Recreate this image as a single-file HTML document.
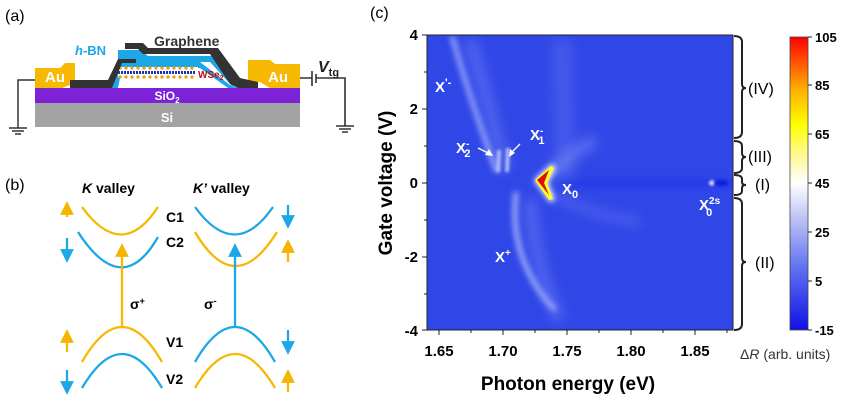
<!DOCTYPE html>
<html><head><meta charset="utf-8"><style>
body{margin:0;background:#fff;}
svg{display:block;font-family:"Liberation Sans",Arial,sans-serif;}
</style></head><body>
<svg width="852" height="402" viewBox="0 0 852 402" xmlns="http://www.w3.org/2000/svg">
<defs>
<filter id="b3" filterUnits="userSpaceOnUse" x="400" y="0" width="400" height="400"><feGaussianBlur stdDeviation="3"/></filter>
<filter id="b6" filterUnits="userSpaceOnUse" x="400" y="0" width="400" height="400"><feGaussianBlur stdDeviation="6"/></filter>
<filter id="b1" filterUnits="userSpaceOnUse" x="400" y="0" width="400" height="400"><feGaussianBlur stdDeviation="1.2"/></filter>
<linearGradient id="cb" x1="0" y1="1" x2="0" y2="0">
<stop offset="0" stop-color="#1010e8"/>
<stop offset="0.2" stop-color="#5a6cf0"/>
<stop offset="0.4" stop-color="#c8ccf6"/>
<stop offset="0.5" stop-color="#ffffff"/>
<stop offset="0.6" stop-color="#fff890"/>
<stop offset="0.7" stop-color="#ffff00"/>
<stop offset="0.82" stop-color="#ffb000"/>
<stop offset="1" stop-color="#ff0000"/>
</linearGradient>
<marker id="ay" markerWidth="6" markerHeight="6" refX="3" refY="3" orient="auto"><path d="M0,0L6,3L0,6z" fill="#f5b400"/></marker>
<marker id="ab" markerWidth="6" markerHeight="6" refX="3" refY="3" orient="auto"><path d="M0,0L6,3L0,6z" fill="#1ea7e6"/></marker>
<clipPath id="pc"><rect x="427" y="35" width="306" height="295"/></clipPath>
</defs>

<text x="5" y="21" font-size="16">(a)</text>
<rect x="35" y="88" width="265" height="15" fill="#7e22d8"/>
<rect x="35" y="103" width="265" height="24" fill="#a3a3a3"/>
<text x="167" y="100" font-size="12" font-weight="bold" fill="#fff" text-anchor="middle">SiO<tspan font-size="8" dy="3">2</tspan></text>
<text x="167" y="122" font-size="13" font-weight="bold" fill="#fff" text-anchor="middle">Si</text>
<path d="M35,68 L60,68 L65,63 L75,63 L75,83 L62,88 L35,88z" fill="#f6b800"/>
<text x="55" y="82" font-size="15" font-weight="bold" fill="#fff" text-anchor="middle">Au</text>
<path d="M248,60 L270,60 L275,64 L300,64 L300,88 L270,88 L260,82 L248,82z" fill="#f6b800"/>
<text x="278" y="82" font-size="15" font-weight="bold" fill="#fff" text-anchor="middle">Au</text>
<path d="M112,88 L118,62 L200,62 L230,85 L238,88 L228,88 L200,68 L122,68 L118,88z" fill="#1ea7e6"/>
<path d="M118,50 L140,50 L148,56 L213,56 L238,84 L232,86 L210,62 L118,62z" fill="#1ea7e6"/>
<rect x="118" y="67" width="80" height="10" fill="#fff"/>
<g fill="#e8a000"><circle cx="120" cy="68" r="1.6"/><circle cx="126" cy="68" r="1.6"/><circle cx="132" cy="68" r="1.6"/><circle cx="138" cy="68" r="1.6"/><circle cx="144" cy="68" r="1.6"/><circle cx="150" cy="68" r="1.6"/><circle cx="156" cy="68" r="1.6"/><circle cx="162" cy="68" r="1.6"/><circle cx="168" cy="68" r="1.6"/><circle cx="174" cy="68" r="1.6"/><circle cx="180" cy="68" r="1.6"/><circle cx="186" cy="68" r="1.6"/><circle cx="192" cy="68" r="1.6"/>
<circle cx="120" cy="77" r="1.6"/><circle cx="126" cy="77" r="1.6"/><circle cx="132" cy="77" r="1.6"/><circle cx="138" cy="77" r="1.6"/><circle cx="144" cy="77" r="1.6"/><circle cx="150" cy="77" r="1.6"/><circle cx="156" cy="77" r="1.6"/><circle cx="162" cy="77" r="1.6"/><circle cx="168" cy="77" r="1.6"/><circle cx="174" cy="77" r="1.6"/><circle cx="180" cy="77" r="1.6"/><circle cx="186" cy="77" r="1.6"/><circle cx="192" cy="77" r="1.6"/></g>
<path d="M118,72.5 L196,72.5" stroke="#1a30c0" stroke-width="3" stroke-dasharray="2 1"/>
<text x="198" y="78" font-size="10" font-weight="bold" fill="#c01010">WSe<tspan font-size="7" dy="2">2</tspan></text>
<path d="M70,80 L108,80 L118,59 L136,59 L136,63 L122,63 L112,88 L70,88z" fill="#333"/>
<path d="M125,43 L143,43 L148,48 L218,48 L240,78 L258,82 L258,88 L238,88 L230,84 L210,54 L143,54 L138,49 L125,49z" fill="#333"/>
<text x="154" y="46" font-size="14" font-weight="bold" fill="#333">Graphene</text>
<text x="75" y="55" font-size="13" font-weight="bold" fill="#1ea7e6"><tspan font-style="italic">h</tspan>-BN</text>
<path d="M35,80 L18,80 L18,128 M9,128 L27,128 M12,131 L24,131 M15,134 L21,134" stroke="#333" stroke-width="1.5" fill="none"/>
<path d="M300,78 L312,78 M312,71 L312,86 M316,74 L316,83 M316,78 L345,78 L345,126 M336,126 L354,126 M339,129 L351,129 M342,132 L348,132" stroke="#333" stroke-width="1.6" fill="none"/>
<text x="318" y="72" font-size="16" font-weight="bold" font-style="italic" fill="#222">V<tspan font-size="11" font-style="normal" dy="4">tg</tspan></text>

<text x="5" y="190" font-size="16">(b)</text>
<text x="82" y="193" font-size="14" font-weight="bold"><tspan font-style="italic">K</tspan> valley</text>
<text x="193" y="193" font-size="14" font-weight="bold"><tspan font-style="italic">K’</tspan> valley</text>
<g fill="none" stroke-width="2.3">
<path d="M82,207 Q122,262 158,207" stroke="#f6b800"/>
<path d="M78,232 Q122,300 158,237" stroke="#1ea7e6"/>
<path d="M82,362 Q122,292 162,362" stroke="#f6b800"/>
<path d="M82,388 Q122,320 162,388" stroke="#1ea7e6"/>
<path d="M195,207 Q235,262 273,207" stroke="#1ea7e6"/>
<path d="M195,232 Q235,300 277,232" stroke="#f6b800"/>
<path d="M195,362 Q235,292 275,362" stroke="#1ea7e6"/>
<path d="M195,388 Q235,320 275,388" stroke="#f6b800"/>
<path d="M122,326 L122,250" stroke="#f6b800" marker-end="url(#ay)"/>
<path d="M235,326 L235,250" stroke="#1ea7e6" marker-end="url(#ab)"/>
<path d="M67,217 L67,208" stroke="#f6b800" marker-end="url(#ay)"/>
<path d="M67,238 L67,256" stroke="#1ea7e6" marker-end="url(#ab)"/>
<path d="M67,352 L67,336" stroke="#f6b800" marker-end="url(#ay)"/>
<path d="M67,370 L67,388" stroke="#1ea7e6" marker-end="url(#ab)"/>
<path d="M288,205 L288,222" stroke="#1ea7e6" marker-end="url(#ab)"/>
<path d="M288,262 L288,246" stroke="#f6b800" marker-end="url(#ay)"/>
<path d="M288,330 L288,348" stroke="#1ea7e6" marker-end="url(#ab)"/>
<path d="M288,392 L288,376" stroke="#f6b800" marker-end="url(#ay)"/>
</g>
<g font-size="14" font-weight="bold">
<text x="166" y="222">C1</text><text x="166" y="247">C2</text>
<text x="166" y="347">V1</text><text x="166" y="384">V2</text>
<text x="130" y="309">σ<tspan font-size="9" dy="-5">+</tspan></text>
<text x="204" y="309">σ<tspan font-size="9" dy="-5">-</tspan></text>
</g>

<text x="370" y="18" font-size="16">(c)</text>
<g clip-path="url(#pc)">
<rect x="427" y="35" width="306" height="295" fill="#3047e8"/>
<rect x="560" y="178" width="180" height="10" fill="#1a30e6" opacity="0.45" filter="url(#b3)"/>
<g fill="none" stroke="#b8c2ff" opacity="0.75">
<path d="M452,36 Q470,100 497,172" stroke-width="5" filter="url(#b3)"/>
<path d="M470,40 Q490,110 505,170" stroke-width="12" opacity="0.35" filter="url(#b6)"/>
<path d="M499,150 L498,172" stroke-width="4" filter="url(#b1)" stroke="#d8dfff"/>
<path d="M508,148 L507,172" stroke-width="4" filter="url(#b1)" stroke="#d8dfff"/>
<path d="M516,192 Q508,260 555,310" stroke-width="5" filter="url(#b3)" stroke="#c8d0ff"/>
<path d="M530,200 Q535,270 560,320" stroke-width="12" opacity="0.35" filter="url(#b6)"/>
<path d="M548,175 Q575,150 595,140" stroke-width="10" opacity="0.5" filter="url(#b6)"/>
<path d="M548,192 Q590,215 640,222" stroke-width="8" opacity="0.3" filter="url(#b6)"/>
<path d="M562,40 L565,180" stroke-width="20" opacity="0.2" filter="url(#b6)"/>
</g>
<ellipse cx="712" cy="183" rx="3" ry="2.5" fill="#dfe4ff" filter="url(#b1)"/>
<ellipse cx="721" cy="183" rx="7" ry="3" fill="#1020d8" filter="url(#b1)"/>
<path d="M534,180 L552,164 L556,167 L548,183 L555,200 L550,202 Z" fill="#fff" filter="url(#b3)"/>
<path d="M535,180 L551,166 L554,168 L547,183 L553,199 L549,200 Z" fill="#ffff20"/>
<path d="M537,180 L549,170 L544,183 L549,195 Z" fill="#e01000"/>
</g>
<rect x="427" y="35" width="306" height="295" fill="none" stroke="#222" stroke-width="1"/>
<g fill="#fff" font-weight="bold" font-size="15">
<text x="435" y="92">X<tspan font-size="11" dy="-6">'-</tspan></text>
<text x="456" y="153">X<tspan font-size="10" dy="-6">-</tspan><tspan font-size="11" dx="-5" dy="10">2</tspan></text>
<text x="530" y="140">X<tspan font-size="10" dy="-6">-</tspan><tspan font-size="11" dx="-5" dy="10">1</tspan></text>
<text x="562" y="194">X<tspan font-size="11" dy="4">0</tspan></text>
<text x="495" y="262">X<tspan font-size="10" dy="-6">+</tspan></text>
<text x="699" y="210">X<tspan font-size="10" dy="-6">2s</tspan><tspan font-size="11" dx="-14" dy="12">0</tspan></text>
</g>
<path d="M478,148 L488,153" stroke="#fff" stroke-width="1.3"/>
<path d="M493,156 L485,155 L489,149z" fill="#fff"/>
<path d="M520,144 L512,152" stroke="#fff" stroke-width="1.3"/>
<path d="M509,157 L510,149 L515,153z" fill="#fff"/>
<g stroke="#222" stroke-width="1">
<path d="M439,330v5M503,330v5M567,330v5M631,330v5M695,330v5M471,330v3M535,330v3M599,330v3M663,330v3M727,330v3"/>
<path d="M427,35h-5M427,109h-5M427,183h-5M427,257h-5M427,330h-5M427,72h-3M427,146h-3M427,220h-3M427,294h-3"/>
</g>
<g font-size="15" font-weight="bold" text-anchor="middle">
<text x="439" y="356">1.65</text><text x="503" y="356">1.70</text><text x="567" y="356">1.75</text><text x="631" y="356">1.80</text><text x="695" y="356">1.85</text>
</g>
<g font-size="15" font-weight="bold" text-anchor="end">
<text x="418" y="40">4</text><text x="418" y="114">2</text><text x="418" y="188">0</text><text x="418" y="262">-2</text><text x="418" y="336">-4</text>
</g>
<text x="568" y="390" font-size="19" font-weight="bold" text-anchor="middle">Photon energy (eV)</text>
<text transform="translate(392,183) rotate(-90)" font-size="19" font-weight="bold" text-anchor="middle">Gate voltage (V)</text>
<g fill="none" stroke="#222" stroke-width="2">
<path d="M734,36 Q742,36 742,42 L742,84 Q742,88 746,88 Q742,88 742,92 L742,132 Q742,138 734,138"/>
<path d="M734,141 Q742,141 742,146 L742,153 Q742,157 746,157 Q742,157 742,161 L742,168 Q742,173 734,173"/>
<path d="M734,175 Q742,175 742,179 L742,182 Q742,185 746,185 Q742,185 742,188 L742,191 Q742,195 734,195"/>
<path d="M734,198 Q742,198 742,204 L742,258 Q742,262 746,262 Q742,262 742,266 L742,324 Q742,330 734,330"/>
</g>
<g font-size="16">
<text x="748" y="94">(IV)</text><text x="748" y="162">(III)</text><text x="755" y="190">(I)</text><text x="755" y="268">(II)</text>
</g>
<rect x="790" y="37" width="18" height="293" fill="url(#cb)" stroke="#444" stroke-width="0.8"/>
<g stroke="#222"><path d="M808,37h4M808,85h4M808,134h4M808,183h4M808,232h4M808,281h4M808,330h4"/></g>
<g font-size="13" font-weight="bold">
<text x="815" y="42">105</text><text x="815" y="90">85</text><text x="815" y="139">65</text><text x="815" y="188">45</text><text x="815" y="237">25</text><text x="815" y="286">5</text><text x="815" y="335">-15</text>
</g>
<text x="740" y="359" font-size="14" fill="#333">Δ<tspan font-style="italic">R</tspan> (arb. units)</text>
</svg>
</body></html>
